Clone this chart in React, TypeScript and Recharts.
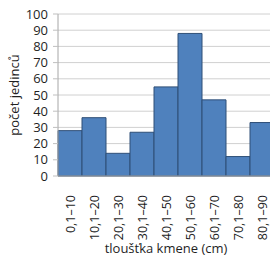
import { BarChart, Bar, XAxis, YAxis, CartesianGrid } from 'recharts';

const categories = ['0,1–10', '10,1–20', '20,1–30', '30,1–40', '40,1–50', '50,1–60', '60,1–70', '70,1–80', '80,1–90'];
const counts = [28, 36, 14, 27, 55, 88, 47, 12, 33];
const yTicks = [0, 10, 20, 30, 40, 50, 60, 70, 80, 90, 100];

const data = categories.map((c, i) => ({ range: c, count: counts[i] }));

const font = { fontFamily: 'Open Sans', fontSize: 13, fill: '#1f1f1f' };

const XTick = ({ x, y, payload }: any) => (
  <text x={x} y={y + 11} transform={`rotate(-90, ${x}, ${y + 11})`} textAnchor="end" dominantBaseline="central" {...font} fontSize={12.5}>
    {payload.value}
  </text>
);

// rotated axis title, left of the tick labels
const YLabel = ({ viewBox }: any) => {
  const cy = viewBox.y + viewBox.height / 2;
  return (
    <text x={14} y={cy} transform={`rotate(-90, 14, ${cy})`} textAnchor="middle" dominantBaseline="central" {...font}>
      počet jedinců
    </text>
  );
};

const XLabel = ({ viewBox }: any) => {
  const cx = viewBox.x + viewBox.width / 2;
  return (
    <text x={cx} y={248} textAnchor="middle" dominantBaseline="central" {...font}>
      tloušťka kmene (cm)
    </text>
  );
};

const App = () => {
  return (
    <div style={{ position: 'absolute', left: 0, top: 0, width: 270, height: 256, overflow: 'hidden', background: '#fff' }}>
      <BarChart width={290} height={256} data={data} barCategoryGap={0} margin={{ top: 14, right: 16, bottom: 0, left: 0 }}>
        <CartesianGrid stroke="#d0d0d0" vertical={false} />
        <XAxis
          dataKey="range"
          height={80}
          interval={0}
          tick={<XTick />}
          tickLine={false}
          axisLine={{ stroke: '#a6a6a6' }}
          label={<XLabel />}
        />
        <YAxis
          width={58}
          domain={[0, 100]}
          ticks={yTicks}
          interval={0}
          tick={font}
          tickSize={5}
          tickMargin={5}
          tickLine={{ stroke: '#bfbfbf' }}
          axisLine={{ stroke: '#a6a6a6' }}
          label={<YLabel />}
        />
        <Bar dataKey="count" fill="#4f81bd" stroke="#2f4f77" strokeWidth={1} isAnimationActive={false} />
      </BarChart>
    </div>
  );
};

export default App;
